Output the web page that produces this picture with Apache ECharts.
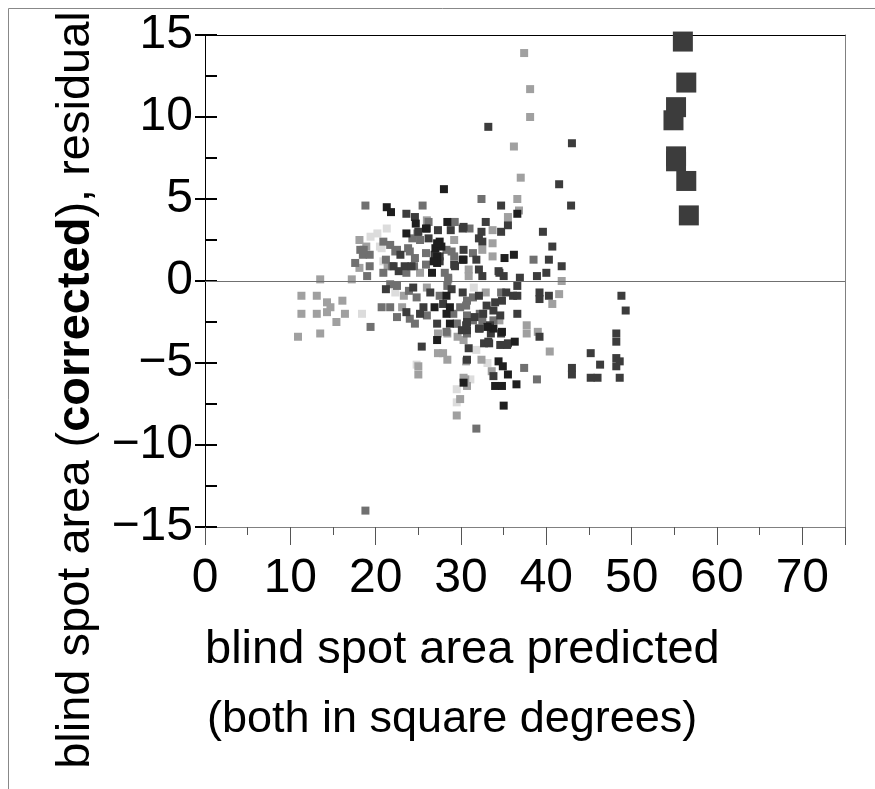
<!DOCTYPE html>
<html>
<head>
<meta charset="utf-8">
<script src="https://cdn.jsdelivr.net/npm/echarts@6/dist/echarts.min.js"></script>
<style>
html,body{margin:0;padding:0;background:#fff;}
#chart{width:875px;height:789px;}
</style>
</head>
<body>
<div id="chart"></div>
<script>
// ---- data (x = predicted area, y = residual) ----
const xTickLabels = [0, 10, 20, 30, 40, 50, 60, 70];
const yTickLabels = [-15, -10, -5, 0, 5, 10, 15];

const blackPts = [[28.0,5.6],[21.3,4.5],[21.8,4.2],[36.6,4.1],[24.7,3.5],[28.4,3.6],[23.6,2.9],[27.5,2.4],[27.0,2.0],[27.7,2.1],[30.2,1.3],[35.1,1.4],[36.2,1.6],[26.6,0.5],[27.2,1.1],[26.9,-1.6],[28.3,-0.9],[28.7,-1.6],[28.3,-2.0],[28.7,-2.6],[33.8,-2.9],[33.1,-2.8],[36.3,-3.7],[27.2,-3.6],[34.4,-4.9],[34.9,-5.2],[35.5,-5.7],[34.0,-6.4],[34.8,-6.4],[36.5,-6.3],[35.0,-7.6],[30.3,-6.2],[25.9,3.2],[34.8,-3.1],[27.2,2.3],[27.2,1.5],[26.8,1.2],[30.3,1.3]];

const darkPts = [[41.5,5.9],[34.7,4.6],[42.9,4.6],[23.6,4.1],[24.6,3.9],[32.9,3.6],[35.5,3.4],[26.0,3.2],[27.3,3.1],[28.8,3.1],[30.2,3.2],[32.4,3.0],[34.7,3.0],[39.6,3.0],[26.2,2.6],[32.1,2.6],[32.5,2.4],[40.7,2.1],[22.9,1.6],[26.9,1.6],[27.5,1.5],[30.3,1.9],[31.8,1.3],[40.3,1.3],[22.1,0.9],[23.4,0.9],[27.5,1.2],[29.3,0.9],[32.1,0.7],[32.5,0.3],[34.5,0.5],[35.0,0.3],[36.9,0.2],[38.9,0.3],[40.0,0.5],[41.8,0.9],[21.2,-0.5],[24.4,-0.4],[25.6,-1.6],[25.2,-2.0],[23.6,-1.9],[26.4,-0.7],[27.2,-2.6],[27.9,-1.4],[28.9,-0.5],[30.2,-0.7],[32.1,-0.9],[33.0,-1.5],[30.7,-2.5],[31.6,-2.2],[33.8,-1.8],[34.0,-1.3],[34.8,-1.2],[34.7,-3.2],[35.3,-0.7],[36.1,-0.9],[36.6,-0.9],[36.6,-0.3],[36.6,-2.0],[39.2,-0.7],[39.2,-1.1],[40.3,-0.9],[39.2,-3.4],[30.1,-3.0],[32.1,-2.9],[33.5,-3.2],[32.7,-3.8],[33.3,-3.8],[34.6,-3.9],[35.5,-3.8],[25.4,-4.0],[30.9,-4.1],[33.8,-5.8],[33.2,9.4],[43.0,8.4],[48.8,-0.9],[49.3,-1.8],[48.2,-3.2],[48.2,-3.7],[45.2,-4.4],[46.3,-5.1],[48.2,-4.7],[48.6,-4.9],[48.2,-5.2],[43.0,-5.3],[43.0,-5.7],[45.2,-5.9],[46.0,-5.9],[48.6,-5.9],[30.7,-4.8],[25.0,3.0],[22.7,0.6],[24.2,0.9],[30.7,-3.0],[30.6,-2.7],[32.2,-2.9],[33.4,-2.7],[32.6,-2.0],[34.6,-2.1],[35.4,-3.9],[33.2,-3.7],[30.3,3.3],[29.2,1.0],[34.4,0.6]];

const grayPts = [[32.4,5.0],[18.8,4.6],[25.5,4.6],[26.2,3.6],[29.2,3.6],[31.0,3.2],[20.9,2.4],[21.7,2.2],[24.3,2.6],[24.9,2.9],[25.2,2.5],[18.2,1.9],[18.5,1.6],[19.3,1.6],[22.5,1.9],[23.8,2.0],[24.6,1.4],[25.9,1.7],[28.3,1.9],[28.9,1.8],[31.4,1.7],[38.5,1.3],[17.6,1.1],[19.3,0.9],[19.0,0.3],[21.2,1.3],[23.6,0.5],[24.5,0.9],[25.9,1.0],[28.1,0.5],[28.5,0.2],[19.4,-2.8],[20.7,-1.6],[21.7,-1.6],[21.7,-0.2],[22.5,-0.3],[23.9,-0.6],[24.8,-1.0],[26.0,-2.1],[24.0,-2.3],[24.6,-2.6],[22.5,-2.2],[27.5,-0.9],[28.4,-0.3],[29.1,-2.0],[29.9,-1.6],[30.7,-1.2],[31.4,-1.0],[30.7,-2.1],[32.2,-2.0],[32.5,-2.4],[34.7,-0.7],[33.8,-2.4],[30.7,-3.2],[37.4,-5.3],[38.9,-6.0],[31.8,-9.0],[18.8,-14.0],[30.6,-1.5],[18.6,1.9],[22.3,1.8],[24.0,1.8],[21.9,0.9],[20.9,0.5],[28.3,-3.1],[31.4,-2.4],[29.5,-2.6],[29.2,1.5]];

const lightPts = [[37.0,6.3],[36.6,5.0],[36.8,4.3],[35.5,3.9],[33.7,3.1],[18.1,2.5],[29.2,2.5],[33.7,2.3],[18.9,2.1],[32.5,1.9],[33.7,1.5],[18.1,0.8],[21.4,0.9],[25.2,0.5],[30.9,0.7],[30.9,0.3],[17.2,0.1],[13.5,0.1],[41.8,0.0],[11.3,-0.9],[13.1,-0.9],[14.3,-1.3],[14.7,-1.6],[16.1,-1.2],[11.3,-2.0],[13.1,-2.0],[14.3,-1.9],[16.4,-2.0],[15.4,-2.5],[10.9,-3.4],[13.5,-3.2],[23.3,-0.9],[23.1,-1.6],[26.0,-0.4],[29.5,-2.6],[32.9,-0.7],[34.5,-2.4],[41.5,-0.8],[40.7,-1.4],[37.7,-2.7],[37.7,-3.2],[39.0,-3.1],[40.4,-4.3],[27.3,-3.2],[28.4,-3.2],[29.6,-3.4],[30.3,-3.6],[27.3,-4.4],[27.9,-4.4],[28.4,-4.8],[30.6,-4.9],[32.4,-4.8],[25.0,-5.2],[25.0,-5.7],[33.6,-5.5],[30.5,-6.0],[30.7,-6.4],[29.9,-7.2],[29.5,-8.2],[37.4,13.9],[38.1,11.7],[38.1,10.0],[36.2,8.2],[30.3,-5.9],[26.0,3.7],[29.3,3.6],[28.5,0.1]];

const veryLightPts = [[21.3,3.2],[19.4,2.7],[20.2,2.9],[20.7,2.0],[18.4,-2.0],[22.3,-0.7],[31.5,-0.4],[31.8,-4.2],[33.1,-5.0],[24.8,-5.1],[31.1,-6.0],[29.5,-6.6],[29.5,-7.4],[20.5,2.1],[20.9,1.2]];

const bigPts = [[56.0,14.6],[56.4,12.1],[55.2,10.6],[54.9,9.8],[55.2,7.6],[55.2,7.3],[56.4,6.1],[56.7,4.0]];

const FONT = '"Liberation Sans", Arial, Helvetica, sans-serif';

function sc(name, data, color, size) {
  return {
    name: name, type: 'scatter', data: data, symbol: 'rect', symbolSize: size,
    itemStyle: { color: color, opacity: 1 },
    xAxisIndex: 0, yAxisIndex: 0, silent: true, animation: false
  };
}

const chart = echarts.init(document.getElementById('chart'), null, { renderer: 'canvas' });
const grid = { left: 205, top: 35, right: 30, bottom: 262, containLabel: false };

const series = [
  sc('veryLight', veryLightPts, '#dcdcdc', 8),
  sc('light', lightPts, '#a0a0a0', 8),
  sc('gray', grayPts, '#707070', 8),
  sc('dark', darkPts, '#3c3c3c', 8),
  sc('black', blackPts, '#1e1e1e', 8),
  sc('big', bigPts, '#3c3c3c', 20)
];
series[0].markLine = {
  silent: true, symbol: ['none', 'none'], animation: false,
  label: { show: false },
  lineStyle: { color: '#707070', width: 1, type: 'solid' },
  data: [{ yAxis: 0 }]
};

chart.setOption({
  animation: false,
  backgroundColor: '#fff',
  grid: grid,
  xAxis: [
    { type: 'value', min: 0, max: 75, interval: 5, position: 'bottom',
      axisLine: { show: true, onZero: false, lineStyle: { color: '#808080', width: 1 } },
      axisTick: { show: true, length: 8, lineStyle: { color: '#555', width: 1 } },
      axisLabel: { show: false }, splitLine: { show: false } },
    { type: 'value', min: 0, max: 75, interval: 10, position: 'bottom',
      axisLine: { show: false, onZero: false },
      axisTick: { show: true, length: 18, lineStyle: { color: '#555', width: 1 } },
      axisLabel: { show: true, margin: 28, fontSize: 48, color: '#000', fontFamily: FONT,
        formatter: function (v) { return xTickLabels.indexOf(v) >= 0 ? String(v) : ''; } },
      splitLine: { show: false } },
    { type: 'value', min: 0, max: 75, position: 'top',
      axisLine: { show: true, onZero: false, lineStyle: { color: '#000', width: 1 } },
      axisTick: { show: false }, axisLabel: { show: false }, splitLine: { show: false } }
  ],
  yAxis: [
    { type: 'value', min: -15, max: 15, interval: 2.5, position: 'left',
      axisLine: { show: true, onZero: false, lineStyle: { color: '#000', width: 1 } },
      axisTick: { show: true, inside: true, length: 12, lineStyle: { color: '#000', width: 2 } },
      axisLabel: { show: false }, splitLine: { show: false } },
    { type: 'value', min: -15, max: 15, interval: 5, position: 'left',
      axisLine: { show: false, onZero: false },
      axisTick: { show: true, inside: false, length: 10, lineStyle: { color: '#000', width: 2 } },
      axisLabel: { show: true, margin: 12, fontSize: 48, color: '#000', fontFamily: FONT,
        formatter: function (v) {
          return yTickLabels.indexOf(v) >= 0 ? String(v).replace('-', '\u2212') : '';
        } },
      splitLine: { show: false } },
    { type: 'value', min: -15, max: 15, position: 'right',
      axisLine: { show: true, onZero: false, lineStyle: { color: '#808080', width: 1 } },
      axisTick: { show: false }, axisLabel: { show: false }, splitLine: { show: false } }
  ],
  series: series,
  graphic: [
    { type: 'rect', silent: true, z: -10,
      shape: { x: 8.5, y: 8.5, width: 900, height: 900 },
      style: { fill: 'none', stroke: '#888', lineWidth: 1 } },
    { type: 'text', silent: true, x: 76, y: 390, rotation: Math.PI / 2,
      style: {
        text: '{n|blind spot area (}{b|corrected}{n|), residual}',
        align: 'center', verticalAlign: 'middle',
        rich: {
          n: { fontSize: 47, fontFamily: FONT, fill: '#000', fontWeight: 'normal' },
          b: { fontSize: 47, fontFamily: FONT, fill: '#000', fontWeight: 'bold' }
        }
      } },
    { type: 'text', silent: true, x: 205, y: 650,
      style: { text: 'blind spot area predicted', font: '47px ' + FONT, fill: '#000',
        align: 'left', verticalAlign: 'middle' } },
    { type: 'text', silent: true, x: 207, y: 720,
      style: { text: '(both in square degrees)', font: '45px ' + FONT, fill: '#000',
        align: 'left', verticalAlign: 'middle' } }
  ]
});
</script>
</body>
</html>
